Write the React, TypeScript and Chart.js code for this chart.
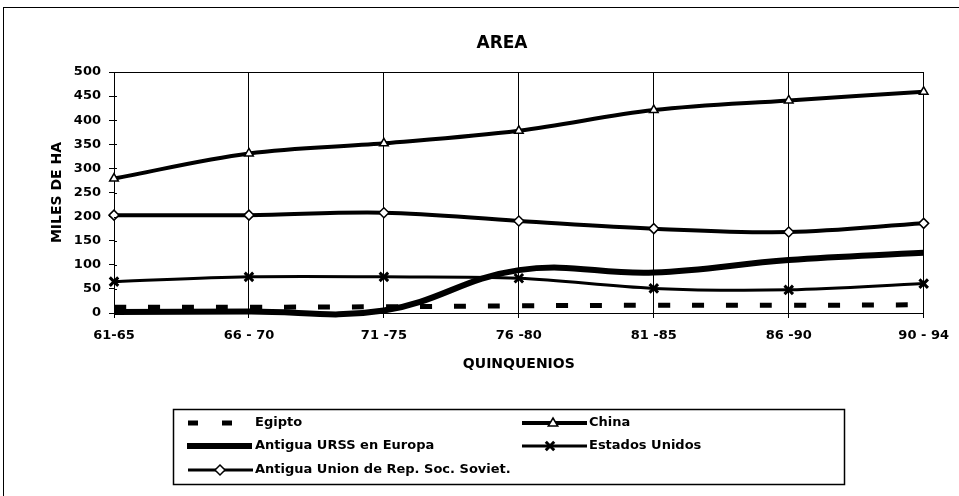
import React, { useEffect, useRef } from 'react';
import { Chart, registerables } from 'chart.js';

Chart.register(...registerables);

const categories = ['61-65', '66 - 70', '71 -75', '76 -80', '81 -85', '86 -90', '90 - 94'];
const egipto = [12, 12, 13, 15, 16, 16, 17];
const china = [279, 331, 352, 378, 421, 441, 459];
const urssEuropa = [2, 3, 5, 89, 84, 110, 125];
const estadosUnidos = [65, 75, 75, 72, 51, 48, 61];
const unionSoviet = [203, 203, 208, 191, 175, 168, 186];

const seriesNames = [
  'Egipto',
  'China',
  'Antigua URSS en Europa',
  'Estados Unidos',
  'Antigua Union de Rep. Soc. Soviet.',
];

const chartTitle = 'AREA';
const yTitle = 'MILES DE HA';
const xTitle = 'QUINQUENIOS';
const yMin = 0;
const yMax = 500;
const yStep = 50;

const FONT = '"DejaVu Sans", "Liberation Sans", sans-serif';

function drawMarker(ctx: CanvasRenderingContext2D, style: string, x: number, y: number, r: number) {
  ctx.save();
  ctx.strokeStyle = '#000';
  ctx.fillStyle = '#fff';
  if (style === 'triangle') {
    ctx.lineWidth = 1.5;
    ctx.beginPath();
    ctx.moveTo(x, y - r);
    ctx.lineTo(x + r * 0.95, y + r * 0.6);
    ctx.lineTo(x - r * 0.95, y + r * 0.6);
    ctx.closePath();
    ctx.fill();
    ctx.stroke();
  } else if (style === 'rectRot') {
    ctx.lineWidth = 1.5;
    ctx.beginPath();
    ctx.moveTo(x, y - r);
    ctx.lineTo(x + r, y);
    ctx.lineTo(x, y + r);
    ctx.lineTo(x - r, y);
    ctx.closePath();
    ctx.fill();
    ctx.stroke();
  } else if (style === 'crossRot') {
    ctx.lineWidth = 3;
    const d = r * 0.7;
    ctx.beginPath();
    ctx.moveTo(x - d, y - d);
    ctx.lineTo(x + d, y + d);
    ctx.moveTo(x + d, y - d);
    ctx.lineTo(x - d, y + d);
    ctx.stroke();
  }
  ctx.restore();
}

const decorPlugin = {
  id: 'decor',
  beforeDraw(chart: any) {
    const { ctx, width, height } = chart;
    ctx.save();
    ctx.fillStyle = '#fff';
    ctx.fillRect(0, 0, width, height);
    ctx.restore();
  },
  afterDraw(chart: any) {
    const { ctx, chartArea } = chart;
    ctx.save();
    ctx.strokeStyle = '#000';
    ctx.lineWidth = 1;

    // outer frame
    ctx.strokeRect(3.5, 7.5, 1000, 1000);

    // plot top border
    const top = Math.round(chartArea.top) + 0.5;
    ctx.beginPath();
    ctx.moveTo(chartArea.left, top);
    ctx.lineTo(chartArea.right, top);
    ctx.stroke();

    // inner part of y tick marks
    const ys = chart.scales.y;
    ys.ticks.forEach((t: any) => {
      const py = Math.round(ys.getPixelForValue(t.value)) + 0.5;
      ctx.beginPath();
      ctx.moveTo(chartArea.left, py);
      ctx.lineTo(chartArea.left + 3, py);
      ctx.stroke();
    });

    // title
    ctx.fillStyle = '#000';
    ctx.font = 'bold 17px ' + FONT;
    ctx.textAlign = 'center';
    ctx.textBaseline = 'middle';
    ctx.fillText(chartTitle, 502, 44);

    // legend box
    ctx.lineWidth = 1.5;
    ctx.strokeRect(173.5, 409.5, 671, 75);

    ctx.font = 'bold 13px ' + FONT;
    ctx.textAlign = 'left';
    const ds = chart.data.datasets;

    // Egipto sample: two dashes
    const r1 = 423;
    ctx.lineWidth = ds[0].borderWidth;
    ctx.lineCap = 'butt';
    ctx.beginPath();
    ctx.moveTo(188, r1);
    ctx.lineTo(198, r1);
    ctx.moveTo(222, r1);
    ctx.lineTo(232, r1);
    ctx.stroke();
    ctx.fillText(ds[0].label, 255, r1);

    // China
    ctx.lineWidth = ds[1].borderWidth;
    ctx.beginPath();
    ctx.moveTo(522, r1);
    ctx.lineTo(587, r1);
    ctx.stroke();
    drawMarker(ctx, 'triangle', 553, r1, 5);
    ctx.fillText(ds[1].label, 589, r1);

    // URSS Europa
    const r2 = 446;
    ctx.lineWidth = ds[2].borderWidth;
    ctx.beginPath();
    ctx.moveTo(187, r2);
    ctx.lineTo(252, r2);
    ctx.stroke();
    ctx.fillText(ds[2].label, 255, r2);

    // Estados Unidos
    ctx.lineWidth = ds[3].borderWidth;
    ctx.beginPath();
    ctx.moveTo(522, r2);
    ctx.lineTo(587, r2);
    ctx.stroke();
    drawMarker(ctx, 'crossRot', 550, r2, 6);
    ctx.fillText(ds[3].label, 589, r2);

    // Antigua Union
    const r3 = 470;
    ctx.lineWidth = 3;
    ctx.beginPath();
    ctx.moveTo(188, r3);
    ctx.lineTo(253, r3);
    ctx.stroke();
    drawMarker(ctx, 'rectRot', 220, r3, 5);
    ctx.fillText(ds[4].label, 255, r3);

    ctx.restore();
  },
};

export default function App() {
  const canvasRef = useRef<HTMLCanvasElement | null>(null);

  useEffect(() => {
    const canvas = canvasRef.current;
    if (!canvas) return;
    const chart = new Chart(canvas, {
      type: 'line',
      data: {
        labels: categories,
        datasets: [
          {
            label: seriesNames[0],
            data: egipto,
            borderColor: '#000',
            borderWidth: 5,
            borderDash: [12, 22],
            borderCapStyle: 'butt',
            pointRadius: 0,
            tension: 0.35,
          },
          {
            label: seriesNames[1],
            data: china,
            borderColor: '#000',
            borderWidth: 4,
            pointStyle: 'triangle',
            pointRadius: 5,
            pointBackgroundColor: '#fff',
            pointBorderColor: '#000',
            pointBorderWidth: 1.5,
            tension: 0.35,
          },
          {
            label: seriesNames[2],
            data: urssEuropa,
            borderColor: '#000',
            borderWidth: 6,
            pointRadius: 0,
            tension: 0.4,
            capBezierPoints: false,
            clip: false,
          } as any,
          {
            label: seriesNames[3],
            data: estadosUnidos,
            borderColor: '#000',
            borderWidth: 3,
            pointStyle: 'crossRot',
            pointRadius: 6,
            pointBorderColor: '#000',
            pointBorderWidth: 3,
            tension: 0.35,
          },
          {
            label: seriesNames[4],
            data: unionSoviet,
            borderColor: '#000',
            borderWidth: 4,
            pointStyle: 'rectRot',
            pointRadius: 5,
            pointBackgroundColor: '#fff',
            pointBorderColor: '#000',
            pointBorderWidth: 1.5,
            tension: 0.35,
          },
        ],
      },
      options: {
        responsive: false,
        animation: false,
        events: [],
        layout: { padding: { left: 44, right: 34, top: 72, bottom: 113 } },
        plugins: {
          legend: { display: false },
          title: { display: false },
          tooltip: { enabled: false },
        },
        scales: {
          x: {
            type: 'category',
            offset: false,
            grid: {
              display: true,
              drawOnChartArea: true,
              drawTicks: true,
              tickLength: 5,
              color: '#000',
              lineWidth: 1,
            },
            border: { display: true, color: '#000', width: 1 },
            ticks: {
              color: '#000',
              font: { family: FONT, size: 13, weight: 'bold' },
              padding: 10,
              maxRotation: 0,
              autoSkip: false,
            },
            title: {
              display: true,
              text: xTitle,
              color: '#000',
              font: { family: FONT, size: 14, weight: 'bold' },
              padding: { top: 0, bottom: 10 },
            },
            afterFit: (scale: any) => {
              scale.height = 70;
            },
          },
          y: {
            min: yMin,
            max: yMax,
            grid: {
              display: true,
              drawOnChartArea: false,
              drawTicks: true,
              tickLength: 5,
              color: '#000',
            },
            border: { display: true, color: '#000', width: 1 },
            ticks: {
              stepSize: yStep,
              color: '#000',
              font: { family: FONT, size: 13, weight: 'bold' },
              padding: 8,
            },
            title: {
              display: true,
              text: yTitle,
              color: '#000',
              font: { family: FONT, size: 14, weight: 'bold' },
              padding: { top: 5, bottom: 0 },
            },
            afterFit: (scale: any) => {
              scale.width = 70;
            },
          },
        },
      } as any,
      plugins: [decorPlugin],
    });
    return () => chart.destroy();
  }, []);

  return (
    <div style={{ position: 'fixed', left: 0, top: 0, width: 959, height: 496, background: '#fff' }}>
      <canvas ref={canvasRef} width={959} height={496} style={{ display: 'block', width: 959, height: 496 }} />
    </div>
  );
}
